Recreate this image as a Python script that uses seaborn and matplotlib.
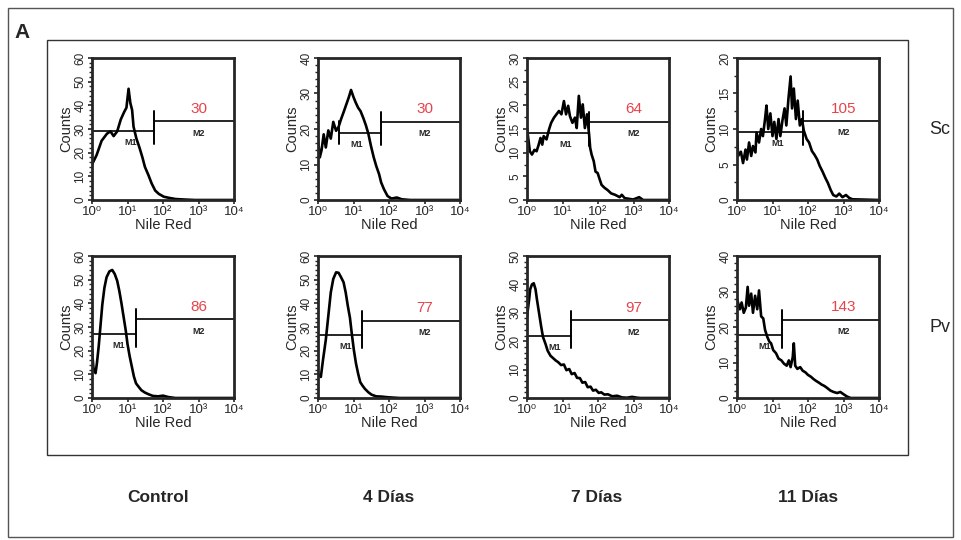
import numpy as np
import matplotlib
matplotlib.use("Agg")
import matplotlib.pyplot as plt
from matplotlib.patches import Rectangle
from matplotlib.ticker import AutoMinorLocator, FixedLocator
import seaborn as sns

# Valores (x em décadas log10 do canal, y em contagens)
conditions = ["Control", "4 Días", "7 Días", "11 Días"]
strains = ["Sc", "Pv"]

sc_ctrl_dec = [0, 0.13, 0.27, 0.42, 0.52, 0.61, 0.71, 0.81, 0.9, 0.97, 1.03, 1.08, 1.13, 1.17,
               1.25, 1.34, 1.42, 1.49, 1.59, 1.68, 1.78, 1.88, 2.02, 2.17, 2.36, 2.6, 2.9, 4.0]
sc_ctrl_cnt = [15, 19, 25, 28, 29, 27, 29, 34, 37, 39, 47, 41, 38, 31,
               26, 22, 18, 14, 10.5, 7, 4, 2.6, 1.4, 0.9, 0.4, 0.2, 0, 0]

sc_4d_dec = [0, 0.05, 0.1, 0.16, 0.22, 0.29, 0.36, 0.43, 0.51, 0.58, 0.65, 0.72, 0.8, 0.87, 0.93,
             1.0, 1.06, 1.13, 1.2, 1.28, 1.35, 1.42, 1.49, 1.57, 1.64, 1.72, 1.78, 1.86, 1.96,
             2.07, 2.22, 2.36, 2.6, 4.0]
sc_4d_cnt = [17, 12, 14, 18.5, 14.8, 19.6, 17.3, 22, 19.5, 20.6, 22.8, 24.7, 27, 29, 31,
             29, 27.5, 26, 25, 23, 21, 18.6, 15.3, 12, 9.6, 7.3, 4.9, 3, 1.1,
             0.4, 0.7, 0.2, 0, 0]

sc_7d_dec = [0, 0.08, 0.14, 0.21, 0.27, 0.33, 0.38, 0.43, 0.47, 0.55, 0.62, 0.68, 0.76, 0.83, 0.9,
             0.97, 1.04, 1.1, 1.16, 1.21, 1.28, 1.35, 1.4, 1.46, 1.52, 1.57, 1.63, 1.69, 1.75,
             1.78, 1.82, 1.88, 1.93, 1.99, 2.05, 2.1, 2.18, 2.27, 2.37, 2.48, 2.61, 2.67, 2.75,
             2.99, 3.16, 3.27, 4.0]
sc_7d_cnt = [15.2, 10.3, 9.6, 10.6, 10.3, 11.7, 13.1, 11.7, 13.5, 12.8, 14.9, 16.3, 17.4, 18.1, 18.8,
             18.1, 20.9, 18.1, 19.9, 17.7, 16.3, 17.4, 15.2, 22, 17.4, 20.2, 15.2, 18.1, 13.8,
             11, 9.6, 8.2, 6, 5.7, 4.3, 3.2, 2.6, 2.1, 1.4, 1.1, 0.6, 1.1, 0.4,
             0.1, 0.6, 0, 0]

sc_11d_dec = [0, 0.03, 0.11, 0.17, 0.24, 0.28, 0.34, 0.4, 0.45, 0.52, 0.55, 0.62, 0.68, 0.73, 0.79,
              0.83, 0.88, 0.94, 1.0, 1.05, 1.11, 1.17, 1.22, 1.28, 1.34, 1.39, 1.45, 1.51, 1.55,
              1.6, 1.66, 1.71, 1.77, 1.83, 1.88, 1.96, 2.03, 2.11, 2.18, 2.26, 2.33, 2.41, 2.49,
              2.56, 2.64, 2.71, 2.8, 2.88, 2.97, 3.07, 3.16, 3.25, 4.0]
sc_11d_cnt = [9.5, 6.2, 6.8, 5.2, 7.1, 5.7, 8.1, 6.2, 7.6, 6.7, 9.5, 8.1, 10, 9, 11.4,
              13.3, 10, 12.2, 9, 11, 8.6, 11.4, 9, 11.2, 12.9, 10.5, 14.3, 17.4, 12.9,
              15.7, 11.4, 14, 10.5, 11.4, 9.8, 8.6, 8.1, 6.9, 6.4, 5.7, 4.8, 4, 3.1,
              2.4, 1.4, 0.7, 0.5, 0.9, 0.4, 0.7, 0.3, 0.1, 0]

pv_ctrl_dec = [0, 0.04, 0.1, 0.14, 0.19, 0.24, 0.29, 0.35, 0.41, 0.49, 0.57, 0.64, 0.71, 0.77, 0.83,
               0.89, 0.95, 1.0, 1.06, 1.12, 1.18, 1.24, 1.31, 1.39, 1.49, 1.59, 1.71, 1.86, 2.0,
               2.15, 2.35, 4.0]
pv_ctrl_cnt = [20.6, 12.7, 10.5, 14.9, 22, 30.7, 39.4, 46.6, 51, 53.5, 54.1, 52.4, 49.5, 45.2, 40,
               34.3, 28.6, 22.8, 17.7, 13.4, 9.1, 6.2, 4.8, 3.3, 2.3, 1.6, 0.9, 0.7, 1.0,
               0.4, 0, 0]

pv_4d_dec = [0, 0.08, 0.14, 0.22, 0.29, 0.36, 0.43, 0.51, 0.58, 0.65, 0.72, 0.78, 0.84, 0.9, 0.95,
             1.01, 1.07, 1.13, 1.19, 1.25, 1.32, 1.42, 1.51, 1.64, 1.78, 1.98, 2.3, 4.0]
pv_4d_cnt = [10.3, 8.9, 16, 24.6, 34.6, 44.6, 50.3, 53.1, 52.9, 51, 48.9, 44.6, 38.9, 33.9, 27.4,
             20.3, 14.6, 10.3, 6.7, 5.3, 3.9, 2.4, 1.4, 0.7, 0.6, 0.3, 0, 0]

pv_7d_dec = [0, 0.06, 0.09, 0.14, 0.19, 0.24, 0.28, 0.34, 0.4, 0.45, 0.52, 0.58, 0.66, 0.73, 0.81,
             0.88, 0.96, 1.04, 1.11, 1.19, 1.26, 1.34, 1.41, 1.49, 1.56, 1.64, 1.71, 1.79, 1.86,
             1.94, 2.02, 2.09, 2.18, 2.28, 2.4, 2.54, 2.68, 2.82, 2.96, 3.1, 3.2, 4.0]
pv_7d_cnt = [28.7, 34.7, 38.3, 40, 40.4, 38.3, 34.7, 29.9, 25.1, 21.5, 19.1, 16.7, 14.9, 14.1, 13.2,
             12.6, 11.6, 11.8, 9.8, 10.2, 8.4, 8.8, 7.1, 7.0, 5.4, 5.6, 3.8, 4.0, 2.6,
             2.9, 1.8, 2.0, 1.2, 1.3, 0.6, 0.8, 0.2, 0.1, 0.4, 0.1, 0, 0]

pv_11d_dec = [0, 0.08, 0.13, 0.19, 0.25, 0.3, 0.34, 0.4, 0.45, 0.51, 0.57, 0.62, 0.68, 0.74, 0.79,
              0.85, 0.91, 0.96, 1.02, 1.1, 1.17, 1.25, 1.32, 1.4, 1.46, 1.51, 1.57, 1.6, 1.64,
              1.7, 1.78, 1.85, 1.93, 2.0, 2.08, 2.16, 2.23, 2.31, 2.38, 2.46, 2.53, 2.63, 2.72,
              2.82, 2.91, 3.01, 3.1, 3.2, 4.0]
pv_11d_cnt = [27.9, 25, 26.9, 24, 25.5, 31.3, 26, 29.4, 24, 28.8, 25, 30.3, 23, 22.4, 19.2,
              17.3, 15.9, 15.4, 13.5, 12.6, 11.1, 10.6, 9.7, 9.1, 10.6, 8.7, 11.5, 15.4, 9.1,
              8.2, 8.7, 7.7, 7.2, 6.5, 6, 5.3, 4.8, 4.3, 3.8, 3.4, 2.9, 2.1, 1.7,
              1.4, 1.7, 1, 0.4, 0, 0]

curves_dec = [sc_ctrl_dec, sc_4d_dec, sc_7d_dec, sc_11d_dec,
              pv_ctrl_dec, pv_4d_dec, pv_7d_dec, pv_11d_dec]
curves_cnt = [sc_ctrl_cnt, sc_4d_cnt, sc_7d_cnt, sc_11d_cnt,
              pv_ctrl_cnt, pv_4d_cnt, pv_7d_cnt, pv_11d_cnt]

y_max = [60, 40, 30, 20, 60, 60, 50, 40]
y_step = [10, 10, 5, 5, 10, 10, 10, 10]
gate_dec = [1.75, 1.78, 1.75, 1.86, 1.23, 1.25, 1.24, 1.26]
m1_start_dec = [0, 0.6, 0, 0, 0, 0, 0, 0]
m1_level = [29, 19, 14.2, 9.6, 27.1, 26.7, 22, 17.8]
m2_level = [33.2, 22, 16.5, 11.1, 33.2, 32.7, 27.3, 22.1]
m2_values = [30, 30, 64, 105, 86, 77, 97, 143]

x_tick_labels = ["10⁰", "10¹", "10²", "10³", "10⁴"]

sns.set_style("ticks")
plt.rcParams['font.family'] = ['Liberation Sans', 'DejaVu Sans']

W, H = 961, 540
fig = plt.figure(figsize=(W / 100, H / 100), dpi=100)

# molduras
fig.patches.append(Rectangle((8 / W, 1 - 537 / H), 945 / W, 529 / H, transform=fig.transFigure,
                             fill=False, edgecolor='#555555', linewidth=1.0))
fig.patches.append(Rectangle((47 / W, 1 - 455 / H), 861 / W, 415 / H, transform=fig.transFigure,
                             fill=False, edgecolor='#333333', linewidth=1.0))

col_left = [92, 318, 527, 737]
row_top = [58, 256]
aw, ah = 142, 142
red = '#e8434b'

for i in range(8):
    r, c = divmod(i, 4)
    ax = fig.add_axes([col_left[c] / W, 1 - (row_top[r] + ah) / H, aw / W, ah / H])
    x = np.power(10.0, curves_dec[i])
    sns.lineplot(x=x, y=curves_cnt[i], ax=ax, color='black', linewidth=1.9, sort=False)
    ax.set_xscale('log')
    ax.set_xlim(1, 1e4)
    ax.set_ylim(0, y_max[i])

    # marcadores M1 / M2
    ym = y_max[i]
    g = 10 ** gate_dec[i]
    ax.plot([10 ** m1_start_dec[i], g], [m1_level[i], m1_level[i]], color='black', lw=1.2)
    ax.plot([g, 1e4], [m2_level[i], m2_level[i]], color='black', lw=1.2)
    ax.plot([g, g], [m1_level[i] - ym * 0.09, m2_level[i] + ym * 0.07], color='black', lw=1.4)
    if m1_start_dec[i] > 0:
        s = 10 ** m1_start_dec[i]
        ax.plot([s, s], [m1_level[i] - ym * 0.08, m1_level[i] + ym * 0.08], color='black', lw=1.4)
    ax.text(10 ** (gate_dec[i] * 0.62), m1_level[i] - ym * 0.05, "M1", fontsize=6.5,
            fontweight='bold', ha='center', va='top')
    ax.text(10 ** 3.0, m2_level[i] - ym * 0.05, "M2", fontsize=6.5,
            fontweight='bold', ha='center', va='top')
    ax.text(10 ** 3.0, m2_level[i] + ym * 0.04, str(m2_values[i]), color=red, fontsize=11,
            ha='center', va='bottom')

    ax.xaxis.set_major_locator(FixedLocator([1, 10, 100, 1000, 10000]))
    ax.set_xticklabels(x_tick_labels)
    ax.set_yticks(np.arange(0, ym + 1, y_step[i]))
    ax.yaxis.set_minor_locator(AutoMinorLocator(5 if y_step[i] == 10 else 2))
    ax.tick_params(axis='y', labelrotation=90, labelsize=8.5, length=3, width=1.2, pad=1)
    ax.tick_params(axis='x', labelsize=9.5, length=3, width=1.2, pad=1)
    ax.tick_params(which='minor', length=2, width=1.0)
    for lab in ax.get_yticklabels():
        lab.set_va('center')
    for sp in ax.spines.values():
        sp.set_linewidth(2.0)
        sp.set_visible(True)
    ax.set_xlabel("Nile Red", fontsize=10.5, labelpad=0)
    ax.set_ylabel("Counts", fontsize=10.5, labelpad=1)

fig.text(14 / W, 1 - 32 / H, "A", fontsize=15, fontweight='bold', va='center', ha='left')
fig.text(940 / W, 1 - 130 / H, strains[0], fontsize=13, va='center', ha='center')
fig.text(940 / W, 1 - 328 / H, strains[1], fontsize=13, va='center', ha='center')
for cx, name in zip([158, 389, 597, 808], conditions):
    fig.text(cx / W, 1 - 497 / H, name, fontsize=12.5, fontweight='bold', va='center', ha='center')

fig.savefig("out.png", dpi=100)
